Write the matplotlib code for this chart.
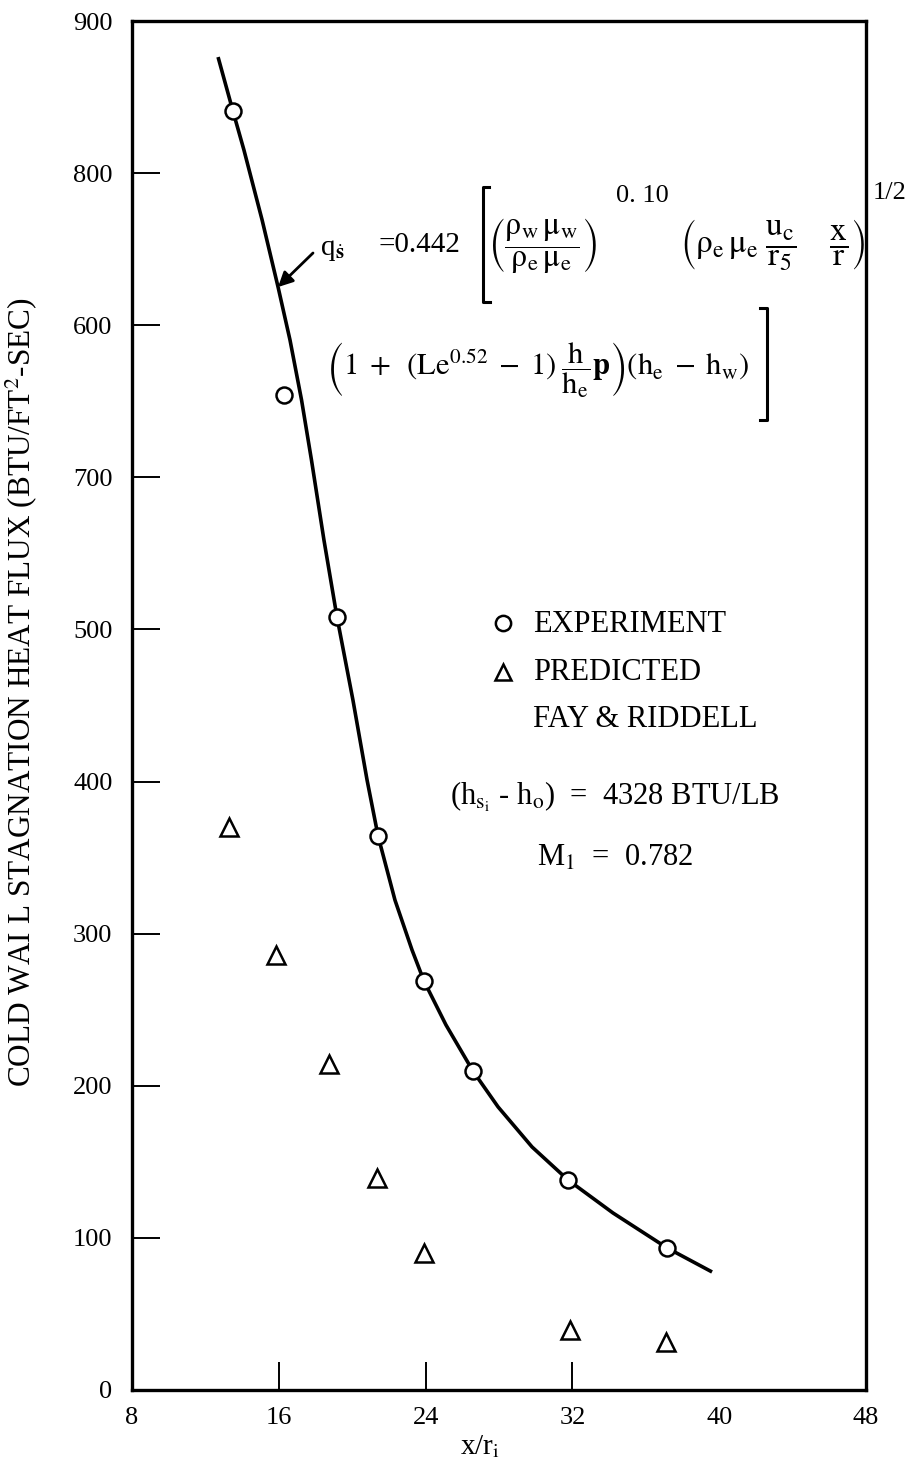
import matplotlib
matplotlib.use("Agg")
import matplotlib.pyplot as plt
from matplotlib.lines import Line2D

# ---- data -------------------------------------------------------------
exp_x = [13.50, 16.28, 19.17, 21.41, 23.91, 26.58, 31.76, 37.16]
exp_q = [840.8, 654.1, 508.2, 364.2, 268.9, 209.7, 138.1, 93.4]

pred_x = [13.29, 15.85, 18.74, 21.35, 23.91, 31.87, 37.10]
pred_q = [370.1, 286.0, 214.3, 139.4, 90.1, 39.4, 31.6]

fit_x = [12.69, 13.50, 14.10, 15.09, 15.96, 16.61, 17.24, 17.78, 18.46, 19.17,
         20.04, 20.81, 21.41, 22.33, 23.26, 23.91, 25.11, 26.58, 27.95, 29.80,
         31.76, 34.21, 37.16, 39.61]
fit_q = [876.3, 840.8, 815.2, 769.2, 725.1, 690.3, 650.8, 611.4, 558.8, 508.2,
         453.6, 401.0, 364.2, 322.1, 289.3, 268.9, 240.0, 209.7, 186.1, 159.8,
         138.1, 116.4, 93.4, 77.6]

x_ticks = [8, 16, 24, 32, 40, 48]
y_ticks = [0, 100, 200, 300, 400, 500, 600, 700, 800, 900]
y_tick_labels = ["0", "100", "200", "300", "400", "500", "700", "600", "800", "900"]

# ---- style ------------------------------------------------------------
plt.rcParams["font.family"] = ["Liberation Serif", "DejaVu Serif"]
plt.rcParams["mathtext.fontset"] = "stix"
plt.rcParams["mathtext.default"] = "rm"

W, H = 917, 1472
fig = plt.figure(figsize=(W / 100, H / 100), dpi=100)
fig.patch.set_facecolor("white")

L, R, T, B = 132, 866, 21, 1390
ax = fig.add_axes([L / W, 1 - B / H, (R - L) / W, (B - T) / H])


def P(px, py):
    """Figure-fraction position from pixel position measured from top-left."""
    return px / W, 1 - py / H


ax.set_xlim(8, 48)
ax.set_ylim(0, 900)
for s in ax.spines.values():
    s.set_linewidth(2.4)

ax.set_xticks(x_ticks)
ax.set_xticklabels([str(v) for v in x_ticks])
ax.set_yticks(y_ticks)
ax.set_yticklabels(y_tick_labels)
ax.tick_params(axis="both", direction="in", length=20, width=1.4,
               labelsize=19, colors="black")
ax.tick_params(axis="y", pad=14)
ax.tick_params(axis="x", pad=12)
# only the interior x ticks carry tick marks
for t, v in zip(ax.xaxis.get_major_ticks(), x_ticks):
    if v not in (16, 24, 32):
        t.tick1line.set_visible(False)

# fitted curve and points
ax.plot(fit_x, fit_q, color="black", lw=2.6, solid_capstyle="butt",
        solid_joinstyle="round", zorder=2)
ax.plot(exp_x, exp_q, linestyle="none", marker="o", markersize=11.5,
        markerfacecolor="white", markeredgecolor="black", markeredgewidth=1.8, zorder=3)
ax.plot(pred_x, pred_q, linestyle="none", marker="^", markersize=13,
        markerfacecolor="white", markeredgecolor="black", markeredgewidth=1.8, zorder=3)

# axis titles
fig.text(*P(21, 692), r"COLD WAI L STAGNATION HEAT FLUX (BTU/FT$^2$-SEC)",
         rotation=90, ha="center", va="center", fontsize=22.5)
fig.text(*P(480, 1447), r"x/r$_\mathrm{i}$", ha="center", va="center", fontsize=21)

# ---- correlation formula --------------------------------------------
ax.annotate("", xy=(fit_x[4], fit_q[4]), xycoords="data",
            xytext=P(313, 253), textcoords="figure fraction",
            arrowprops=dict(arrowstyle="-|>", color="black", lw=2.0,
                            mutation_scale=22, shrinkA=0, shrinkB=0))
fig.text(*P(320, 250), r"q$_{\dot{\mathbf{s}}}$", ha="left", va="center", fontsize=21)
fig.text(*P(378, 245), "=0.442", ha="left", va="center", fontsize=21)

# brackets spanning both lines
fig.add_artist(Line2D([489 / W, 483 / W, 483 / W, 490 / W],
                      [1 - 187 / H, 1 - 187 / H, 1 - 302 / H, 1 - 302 / H],
                      color="black", lw=2.2))
fig.add_artist(Line2D([760 / W, 767 / W, 767 / W, 760 / W],
                      [1 - 308 / H, 1 - 308 / H, 1 - 420 / H, 1 - 420 / H],
                      color="black", lw=2.2))

fig.text(*P(488, 245),
         r"$\left(\dfrac{\rho_w\,\mu_w}{\rho_e\,\mu_e}\right)$",
         ha="left", va="center", fontsize=23)
fig.text(*P(616, 196), "0. 10", ha="left", va="center", fontsize=19)
fig.text(*P(680, 245),
         r"$\left(\rho_e\,\mu_e\;\dfrac{u_c}{r_5}\quad\;\dfrac{x}{r}\right)$",
         ha="left", va="center", fontsize=24)
fig.text(*P(890, 193), "1/2", ha="center", va="center", fontsize=19)

fig.text(*P(326, 370),
         r"$\left(1\;+\;\;(Le^{0.52}\;-\;1)\;\dfrac{h}{h_e}\mathbf{p}\right)\left(h_e\;-\;h_w\right)$",
         ha="left", va="center", fontsize=22)

# ---- key and run conditions ------------------------------------------
ax.plot([(503 - L) / (R - L)], [(B - 623) / (B - T)], transform=ax.transAxes,
        marker="o", markersize=11, markerfacecolor="white",
        markeredgecolor="black", markeredgewidth=1.8, clip_on=False)
ax.plot([(503 - L) / (R - L)], [(B - 672) / (B - T)], transform=ax.transAxes,
        marker="^", markersize=12, markerfacecolor="white",
        markeredgecolor="black", markeredgewidth=1.8, clip_on=False)
fig.text(*P(533, 624), "EXPERIMENT", ha="left", va="center", fontsize=22)
fig.text(*P(533, 672), "PREDICTED", ha="left", va="center", fontsize=22)
fig.text(*P(533, 720), "FAY & RIDDELL", ha="left", va="center", fontsize=22)
fig.text(*P(450, 797), r"(h$_{\mathrm{s}_\mathrm{i}}$ - h$_\mathrm{o}$)  =  4328 BTU/LB",
         ha="left", va="center", fontsize=22)
fig.text(*P(537, 858), r"M$_1$  =  0.782", ha="left", va="center", fontsize=22)

fig.savefig("out.png", dpi=100, facecolor="white")
